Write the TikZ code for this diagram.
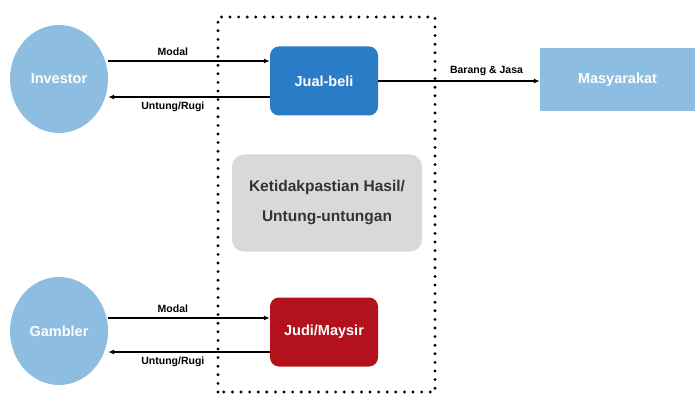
\documentclass[tikz,border=0pt]{standalone}
\usepackage{fontspec}
\setmainfont{Liberation Sans}
\usetikzlibrary{arrows.meta,shapes.geometric}
\definecolor{pihaklight}{HTML}{8DBDE0}
\definecolor{jualblue}{HTML}{2A7CC7}
\definecolor{judired}{HTML}{B3121C}
\definecolor{ragugray}{HTML}{D9D9D9}
\definecolor{ragutext}{HTML}{333333}

\begin{document}
\begin{tikzpicture}[
  x=1pt, y=1pt,
  font=\bfseries,
  party/.style={ellipse, fill=pihaklight, minimum width=98pt, minimum height=108pt, text=white, font=\bfseries\fontsize{14.5}{16}\selectfont},
  deal/.style={rounded corners=9pt, minimum width=108pt, minimum height=69pt, text=white, font=\bfseries\fontsize{14.5}{16}\selectfont},
  crowd/.style={fill=pihaklight, minimum width=155pt, minimum height=63pt, text=white, font=\bfseries\fontsize{14.5}{16}\selectfont},
  doubt/.style={rounded corners=12pt, fill=ragugray, minimum width=190pt, minimum height=97pt, align=center, text=ragutext, font=\bfseries\fontsize{15.5}{30}\selectfont},
  arr/.style={-{Latex[length=6pt,width=5pt]}, line width=1.4pt},
  lbl/.style={font=\bfseries\fontsize{10.5}{12}\selectfont, text=black}
]
\useasboundingbox (0,0) rectangle (695,394);

% Ketidakpastian zone
\draw[line width=3.2pt, line cap=round, dash pattern=on 0pt off 8.6pt] (218,2) rectangle (435,377);

% Pihak
\node[party] (inv) at (59,315) {Investor};
\node[party] (gam) at (59,63) {Gambler};

% Akad
\node[deal, fill=jualblue] (jb) at (324,313) {Jual-beli};
\node[deal, fill=judired] (jm) at (324,62) {Judi/Maysir};
\node[crowd] (mas) at (617.5,314) {Masyarakat};
\node[doubt] (rg) at (327,191) {Ketidakpastian Hasil/\\Untung-untungan};

% Aliran investor
\draw[arr] ([yshift=18pt]inv.east) -- ([yshift=18pt]inv.east -| jb.west)
  node[lbl, pos=0.4, above=1pt] {Modal};
\draw[arr] ([yshift=-18pt]inv.east -| jb.west) -- ([yshift=-18pt]inv.east)
  node[lbl, pos=0.6, below=1pt] {Untung/Rugi};
\draw[arr] (jb.east) -- (jb.east -| mas.west)
  node[lbl, pos=0.67, above=1pt] {Barang \& Jasa};

% Aliran gambler
\draw[arr] ([yshift=13pt]gam.east) -- ([yshift=13pt]gam.east -| jm.west)
  node[lbl, pos=0.4, above=1pt] {Modal};
\draw[arr] ([yshift=-21pt]gam.east -| jm.west) -- ([yshift=-21pt]gam.east)
  node[lbl, pos=0.6, below=1pt] {Untung/Rugi};
\end{tikzpicture}
\end{document}
